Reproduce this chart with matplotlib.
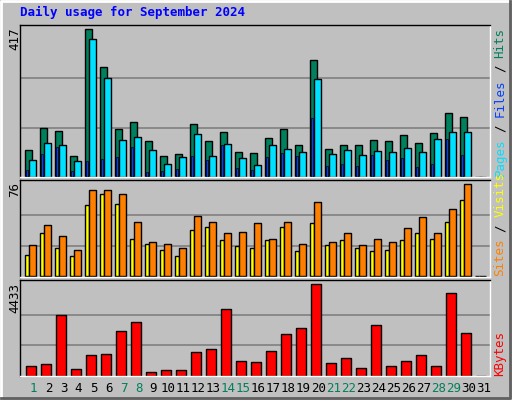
import matplotlib
matplotlib.use("Agg")
import matplotlib.pyplot as plt
from matplotlib.lines import Line2D

days = list(range(1, 32))
weekend = [1, 7, 8, 14, 15, 21, 22, 28, 29]
hits = [75,137,129,58,417,310,134,154,100,58,63,148,100,126,69,66,109,134,89,330,78,89,89,103,100,117,95,123,180,168,0]
files = [46,95,89,44,389,279,103,112,75,35,55,120,58,92,52,32,89,78,69,276,63,75,60,72,69,80,69,106,126,126,0]
pages = [18,63,83,15,44,49,55,83,12,15,21,58,46,89,24,18,55,66,58,166,29,35,29,60,46,52,27,35,106,60,0]
sites = [18,36,23,17,59,68,60,31,27,22,17,38,41,30,25,23,30,41,21,44,26,30,23,21,22,30,36,31,45,63,0]
visits = [26,42,33,22,71,71,68,45,28,27,23,50,45,36,37,44,31,45,27,61,28,36,26,31,28,40,49,36,56,76,0]
kbytes = [453,550,2929,307,987,1036,2152,2589,162,259,259,1133,1278,3220,696,647,1181,2006,2298,4433,599,841,356,2443,453,696,987,453,3996,2055,0]
title = "Daily usage for September 2024"

W, H = 512, 400
fig = plt.figure(figsize=(W/100, H/100), dpi=100)
fig.patch.set_facecolor("#C0C0C0")
GREEN, BLUE, CYAN = "#00805C", "#0040FF", "#00E0FF"
YEL, ORA, RED = "#FFFF00", "#FF8000", "#FF0000"
MONO = "DejaVu Sans Mono"

def fx(px): return px / W
def fy(py): return 1 - py / H

fig.add_artist(Line2D([fx(1), fx(1), fx(510)], [fy(398), fy(1), fy(1)], color="white", lw=2))
fig.add_artist(Line2D([fx(1), fx(510), fx(510)], [fy(398), fy(398), fy(1)], color="#606060", lw=2))

X0, X1 = 20, 490
def make_ax(top, bot, base, maxy, maxval):
    ax = fig.add_axes([fx(X0), fy(bot), fx(X1) - fx(X0), (bot - top) / H])
    ax.set_facecolor("#C0C0C0")
    scale = maxval / (base - maxy)
    ax.set_ylim(-(bot - base) * scale, (base - top) * scale)
    ax.set_xlim(0, (X1 - X0) / 15)
    for v in (maxval / 3, 2 * maxval / 3):
        ax.axhline(v, color="#808080", lw=1.2, zorder=0)
    ax.set_xticks([]); ax.set_yticks([])
    for s in ax.spines.values():
        s.set_color("black"); s.set_linewidth(1)
    ax.spines["bottom"].set_color("white")
    ax.spines["right"].set_color("white")
    return ax

def bars(ax, vals, off, w, color):
    xs = [(d - 1) + (5 + off) / 15 for d in days]
    ax.bar(xs, vals, width=w / 15, align="edge", color=color, edgecolor="black", linewidth=1, zorder=2)

ax1 = make_ax(25, 177, 176.7, 29.3, max(hits))
bars(ax1, hits, 0, 7, GREEN)
ax1.bar([(d - 1) + 6 / 15 for d in days], pages, width=2 / 15, align="edge", color=BLUE, edgecolor="black", linewidth=0.5, zorder=3)
bars(ax1, files, 4, 7, CYAN)

ax2 = make_ax(180, 277, 276.3, 184.3, max(visits))
bars(ax2, sites, 0, 4, YEL)
bars(ax2, visits, 4, 7, ORA)

ax3 = make_ax(280, 376, 375.7, 284.3, max(kbytes))
bars(ax3, kbytes, 1, 10, RED)

fig.text(fx(20), fy(16), title, color="#0000FF", fontsize=9, fontweight="bold", family=MONO, va="baseline")

for val, ty in ((max(hits), 27), (max(visits), 182), (max(kbytes), 283)):
    fig.text(fx(15), fy(ty), str(val), rotation=90, ha="center", va="top", fontsize=9, family=MONO)

CH = 7.4
def vlabel(parts, ybot):
    idx = 0
    for s, c in parts:
        fig.text(fx(500), fy(ybot - CH * idx), s, rotation=90, ha="center", va="bottom",
                 color=c, fontsize=9, family=MONO)
        idx += len(s) + 1

vlabel([("Pages", CYAN), ("/", "black"), ("Files", BLUE), ("/", "black"), ("Hits", GREEN)], 176)
vlabel([("Sites", ORA), ("/", "black"), ("Visits", YEL)], 276)
vlabel([("KBytes", RED)], 376)

for d in days:
    fig.text(fx(X0 + (d - 1) * 15 + 13.5), fy(389), str(d), ha="center", va="center",
             fontsize=9, family=MONO, color=GREEN if d in weekend else "black")

fig.savefig("out.png", dpi=100, facecolor=fig.get_facecolor())
